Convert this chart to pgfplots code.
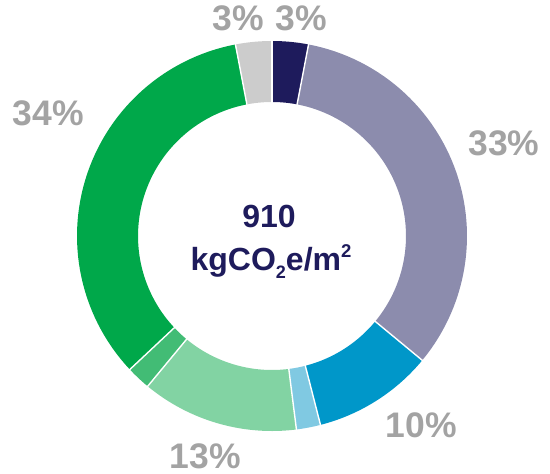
\documentclass[border=0pt]{standalone}
\usepackage{pgfplots}
\pgfplotsset{compat=1.18}
\usepackage{fontspec}
\setmainfont{Liberation Sans}
\definecolor{cnavy}{HTML}{1E1B5C}
\definecolor{cpurple}{HTML}{8C8CAD}
\definecolor{cblue}{HTML}{0097C9}
\definecolor{clblue}{HTML}{80C9E2}
\definecolor{clgreen}{HTML}{82D3A3}
\definecolor{cmgreen}{HTML}{42BC75}
\definecolor{cgreen}{HTML}{00A84A}
\definecolor{cgrey}{HTML}{CCCCCC}
\definecolor{clabel}{HTML}{A3A3A3}
\begin{document}
\begin{tikzpicture}
\path[use as bounding box] (0,0) rectangle (550bp,474bp);
\begin{axis}[at={(0,0)}, anchor=south west, width=550bp, height=474bp,
  scale only axis, xmin=0, xmax=550, ymin=0, ymax=474, y dir=reverse,
  hide axis, clip=false,
  ring/.style={line width=61bp, samples=60, line join=round},
  sep/.style={white, line width=1.4bp, samples=2, domain=131:198}]
% ring segments: domain = cumulative percentages (start:end)
\addplot[ring, cnavy,   domain=0:3]   ({272+164.5*sin(3.6*x)},{236-164.5*cos(3.6*x)});
\addplot[ring, cpurple, domain=3:36]  ({272+164.5*sin(3.6*x)},{236-164.5*cos(3.6*x)});
\addplot[ring, cblue,   domain=36:46] ({272+164.5*sin(3.6*x)},{236-164.5*cos(3.6*x)});
\addplot[ring, clblue,  domain=46:48] ({272+164.5*sin(3.6*x)},{236-164.5*cos(3.6*x)});
\addplot[ring, clgreen, domain=48:61] ({272+164.5*sin(3.6*x)},{236-164.5*cos(3.6*x)});
\addplot[ring, cmgreen, domain=61:63] ({272+164.5*sin(3.6*x)},{236-164.5*cos(3.6*x)});
\addplot[ring, cgreen,  domain=63:97] ({272+164.5*sin(3.6*x)},{236-164.5*cos(3.6*x)});
\addplot[ring, cgrey,   domain=97:100]({272+164.5*sin(3.6*x)},{236-164.5*cos(3.6*x)});
% white separators at the boundaries
\addplot[sep] ({272+x*sin(3.6*0)},{236-x*cos(3.6*0)});
\addplot[sep] ({272+x*sin(3.6*3)},{236-x*cos(3.6*3)});
\addplot[sep] ({272+x*sin(3.6*36)},{236-x*cos(3.6*36)});
\addplot[sep] ({272+x*sin(3.6*46)},{236-x*cos(3.6*46)});
\addplot[sep] ({272+x*sin(3.6*48)},{236-x*cos(3.6*48)});
\addplot[sep] ({272+x*sin(3.6*61)},{236-x*cos(3.6*61)});
\addplot[sep] ({272+x*sin(3.6*63)},{236-x*cos(3.6*63)});
\addplot[sep] ({272+x*sin(3.6*97)},{236-x*cos(3.6*97)});
\begin{scope}[every node/.style={anchor=base, text=clabel, font=\fontsize{35.5bp}{35.5bp}\selectfont\bfseries, inner sep=0pt}]
\node at (axis cs:238.5,31) {3\%};
\node at (axis cs:301.5,31) {3\%};
\node at (axis cs:504,155) {33\%};
\node at (axis cs:48.5,125) {34\%};
\node at (axis cs:421.5,437) {10\%};
\node at (axis cs:205.5,468) {13\%};
\end{scope}
\node[anchor=base, text=cnavy, inner sep=0pt, font=\fontsize{32bp}{32bp}\selectfont\bfseries] at (axis cs:269,227) {910};
\node[anchor=base, text=cnavy, inner sep=0pt, font=\fontsize{32bp}{32bp}\selectfont\bfseries] at (axis cs:271,270) {kgCO\raisebox{-0.28em}{\fontsize{18bp}{18bp}\selectfont 2}e/m\raisebox{0.38em}{\fontsize{18.5bp}{18.5bp}\selectfont 2}};
\end{axis}
\end{tikzpicture}
\end{document}
